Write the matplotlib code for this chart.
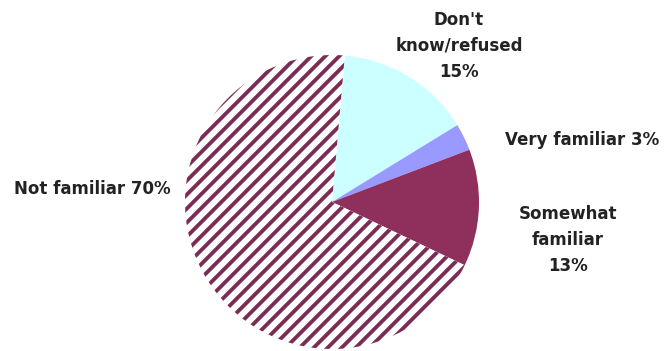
import matplotlib
matplotlib.use("Agg")
import matplotlib.pyplot as plt
import numpy as np

categories = ["Don't\nknow/refused", "Very familiar", "Somewhat\nfamiliar", "Not familiar"]
values = [15, 3, 13, 70]
label_texts = ["Don't\nknow/refused\n15%", "Very familiar 3%", "Somewhat\nfamiliar\n13%", "Not familiar 70%"]

colors = ["#ccffff", "#9999ff", "#8e2f5c", "white"]
striped = [False, False, False, True]
stripe_color = "#7d2a55"

DPI = 120
W, H = 667, 351
plt.rcParams['font.family'] = ['DejaVu Sans']

fig = plt.figure(figsize=(W / DPI, H / DPI), dpi=DPI)
cx, cy, r = 332, 202, 147
ax = fig.add_axes([(cx - r) / W, (H - cy - r) / H, 2 * r / W, 2 * r / H])
wedges, _ = ax.pie(values, startangle=85, counterclock=False, colors=colors,
                   wedgeprops=dict(linewidth=0))
ax.set_xlim(-1, 1)
ax.set_ylim(-1, 1)
ax.set_aspect('equal')
ax.axis('off')

# diagonal stripe pattern, clipped to the striped wedge
period = 14.0 / r  # horizontal period in data units (~14 px)
for w, s in zip(wedges, striped):
    if not s:
        continue
    for c in np.arange(-2.2, 2.2, period):
        ln, = ax.plot([-1.2, 1.2], [-1.2 + c, 1.2 + c], color=stripe_color,
                      lw=2.3, solid_capstyle='butt')
        ln.set_clip_path(w)

label_pos = [(459, 46), (582, 140), (568, 240), (92, 189)]
for txt, (x, y) in zip(label_texts, label_pos):
    fig.text(x / W, 1 - y / H, txt, ha='center', va='center', fontsize=10,
             fontweight='bold', color='#222222', linespacing=1.55)

fig.savefig("out.png", dpi=DPI)
